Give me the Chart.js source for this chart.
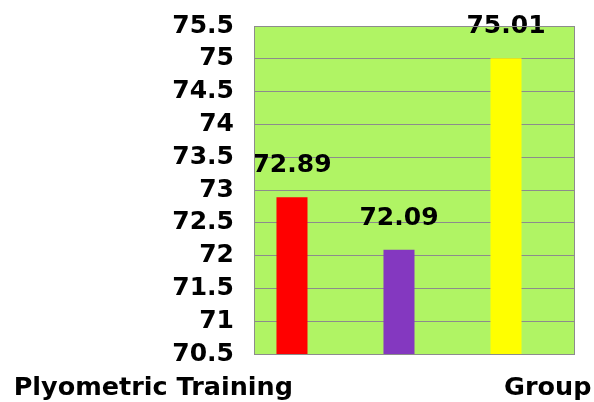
<!DOCTYPE html>
<html>
<head>
<meta charset="utf-8">
<script src="https://cdn.jsdelivr.net/npm/chart.js@4/dist/chart.umd.min.js"></script>
<style>
	html, body { margin: 0; padding: 0; background: #ffffff; }
	#wrap { width: 594px; height: 402px; position: relative; }
</style>
</head>
<body>
<div id="wrap"><canvas id="chart"></canvas></div>
<script>
const categories = ['Plyometric Training', '', 'Group'];
const values = [72.89, 72.09, 75.01];
const barColors = ['#ff0000', '#8438c0', '#ffff00'];
const yTicks = [70.5, 71, 71.5, 72, 72.5, 73, 73.5, 74, 74.5, 75, 75.5];

const fontFamily = '"DejaVu Sans", Verdana, sans-serif';

// plot background + frame
const plotFrame = {
	id: 'plotFrame',
	beforeDraw(chart) {
		const { ctx, chartArea: a } = chart;
		ctx.save();
		ctx.fillStyle = '#b0f464';
		ctx.fillRect(a.left, a.top, a.right - a.left, a.bottom - a.top);
		ctx.restore();
	},
	afterDraw(chart) {
		const { ctx, chartArea: a } = chart;
		ctx.save();
		ctx.strokeStyle = '#8c8c8c';
		ctx.lineWidth = 1;
		ctx.strokeRect(Math.round(a.left) + 0.5, Math.round(a.top) + 0.5,
			Math.round(a.right - a.left) - 1, Math.round(a.bottom - a.top));
		ctx.restore();
	}
};

// value labels above the bars and the category labels below
const textLabels = {
	id: 'textLabels',
	afterDatasetsDraw(chart) {
		const { ctx } = chart;
		const meta = chart.getDatasetMeta(0);
		ctx.save();
		ctx.fillStyle = '#000000';
		ctx.font = 'bold 25px ' + fontFamily;
		ctx.textAlign = 'center';
		ctx.textBaseline = 'alphabetic';
		meta.data.forEach((bar, i) => {
			ctx.fillText(String(values[i]), bar.x, bar.y - 25);
		});

		ctx.font = 'bold 25.5px ' + fontFamily;
		const labelY = chart.chartArea.bottom + 41;
		meta.data.forEach((bar, i) => {
			if (!categories[i]) return;
			if (i === 0) {
				ctx.textAlign = 'right';
				ctx.fillText(categories[i], bar.x + 1, labelY);
			} else if (i === categories.length - 1) {
				ctx.textAlign = 'left';
				ctx.fillText(categories[i], bar.x - 2, labelY);
			} else {
				ctx.textAlign = 'center';
				ctx.fillText(categories[i], bar.x, labelY);
			}
		});
		ctx.restore();
	}
};

new Chart(document.getElementById('chart'), {
	type: 'bar',
	data: {
		labels: categories,
		datasets: [
			{
				data: values,
				backgroundColor: barColors,
				borderWidth: 0,
				barPercentage: 1,
				categoryPercentage: 0.58,
			},
			{
				data: categories.map(() => null),
				backgroundColor: 'rgba(0,0,0,0)',
				barPercentage: 1,
				categoryPercentage: 0.58,
			}
		]
	},
	options: {
		responsive: true,
		maintainAspectRatio: false,
		animation: false,
		layout: { padding: { left: 0, right: 19, top: 26, bottom: 48 } },
		plugins: {
			legend: { display: false },
			tooltip: { enabled: false },
		},
		scales: {
			x: {
				grid: { display: false },
				border: { display: false },
				ticks: { display: false },
				afterFit(scale) { scale.height = 0; },
			},
			y: {
				min: yTicks[0],
				max: yTicks[yTicks.length - 1],
				afterFit(scale) {
					scale.width = 254;
					scale.paddingTop = 0;
					scale.paddingBottom = 0;
				},
				afterBuildTicks(scale) {
					scale.ticks = yTicks.map((v) => ({ value: v }));
				},
				grid: {
					color: '#8c8c8c',
					lineWidth: 1,
					drawTicks: false,
				},
				border: { display: false },
				ticks: {
					autoSkip: false,
					padding: 20,
					color: '#000000',
					font: { family: fontFamily, size: 25, weight: 'bold' },
					callback: (value) => String(value),
				}
			}
		}
	},
	plugins: [plotFrame, textLabels]
});
</script>
</body>
</html>
